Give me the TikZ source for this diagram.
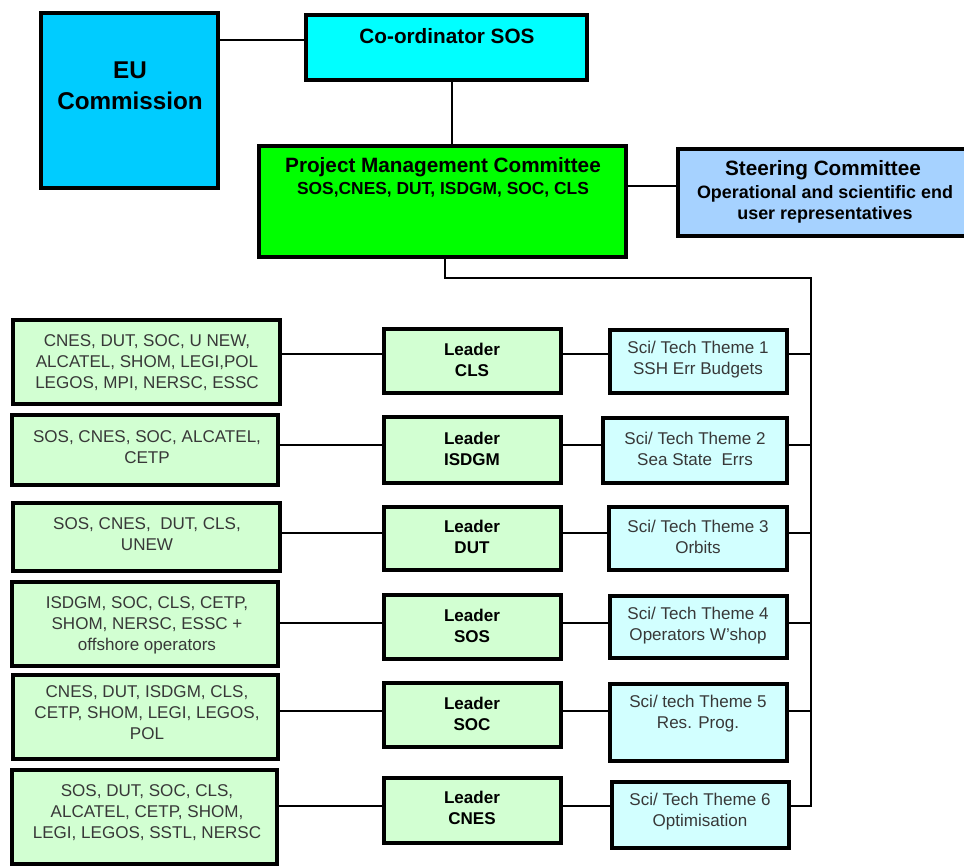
\documentclass[tikz,border=0pt]{standalone}
\usepackage{fontspec}
\setmainfont{Liberation Sans}
\usetikzlibrary{fit}
\definecolor{eublue}{HTML}{00CCFF}
\definecolor{coordcyan}{HTML}{00FFFF}
\definecolor{pmcgreen}{HTML}{00FF00}
\definecolor{steerblue}{HTML}{A6D2FF}
\definecolor{palegreen}{HTML}{D2FFD2}
\definecolor{palecyan}{HTML}{D2FFFF}
\definecolor{txtgray}{HTML}{383838}
\tikzset{
  box/.style={draw=black, line width=1.8pt, inner sep=0pt},
  greenbox/.style={box, fill=palegreen},
  themebox/.style={box, fill=palecyan},
  conn/.style={line width=1.5pt, line join=miter},
  smalltxt/.style={align=center, inner sep=0pt, text=txtgray, font=\fontsize{9.7}{11.9}\selectfont},
  leadtxt/.style={align=center, inner sep=0pt, text=black, font=\fontsize{9.7}{11.9}\selectfont\bfseries},
  titletxt/.style={align=center, inner sep=0pt, text=black, font=\fontsize{11.8}{14}\selectfont\bfseries},
  subtxt/.style={align=center, inner sep=0pt, text=black, font=\fontsize{9.9}{11.9}\selectfont\bfseries}
}
\begin{document}
\begin{tikzpicture}[x=0.02cm,y=-0.02cm]
\useasboundingbox[fill=white] (0,0) rectangle (964,867);

% top boxes
\node[box, fill=eublue, fit={(41,13) (218,188)}] (eu) {};
\node[box, fill=coordcyan, fit={(306,15) (587,80)}] (coord) {};
\node[box, fill=pmcgreen, fit={(259,146) (626,257)}] (pmc) {};
\node[box, fill=steerblue, fit={(678,149) (970,236)}] (steer) {};

\node[align=center, inner sep=0pt, font=\fontsize{13.8}{17.6}\selectfont\bfseries] (eutxt) at (130,86) {EU\\Commission};
\node[titletxt] (coordtxt) at (447,36) {Co-ordinator SOS};
\node[titletxt] (pmctxt) at (443,167) {Project Management Committee};
\node[subtxt] (pmcsub) at (443,190) {SOS,CNES, DUT, ISDGM, SOC, CLS};
\node[titletxt] (steertxt) at (823,170) {Steering Committee};
\node[subtxt, font=\fontsize{10.2}{12}\selectfont\bfseries] (steersub) at (825,204) {Operational and scientific end\\user representatives};

% left partner boxes
\node[greenbox, fit={(13,320) (280,404)}] (l1) {};
\node[greenbox, fit={(12,415) (278,485)}] (l2) {};
\node[greenbox, fit={(13,503) (280,571)}] (l3) {};
\node[greenbox, fit={(12,582) (278,666)}] (l4) {};
\node[greenbox, fit={(13,675) (278,759)}] (l5) {};
\node[greenbox, fit={(12,770) (277,864)}] (l6) {};

\node[smalltxt] (l1t) at (147,363) {CNES, DUT, SOC, U NEW,\\ALCATEL, SHOM, LEGI,POL\\LEGOS, MPI, NERSC, ESSC};
\node[smalltxt] (l2t) at (147,447) {SOS, CNES, SOC, ALCATEL,\\CETP};
\node[smalltxt] (l3t) at (147,534) {SOS, CNES,\ \ DUT, CLS,\\UNEW};
\node[smalltxt] (l4t) at (147,625) {ISDGM, SOC, CLS, CETP,\\SHOM, NERSC, ESSC +\\offshore operators};
\node[smalltxt] (l5t) at (147,713) {CNES, DUT, ISDGM, CLS,\\CETP, SHOM, LEGI, LEGOS,\\POL};
\node[smalltxt] (l6t) at (147,813) {SOS, DUT, SOC, CLS,\\ALCATEL, CETP, SHOM,\\LEGI, LEGOS, SSTL, NERSC};

% leader boxes
\node[greenbox, fit={(384,329) (561,393)}] (ld1) {};
\node[greenbox, fit={(384,417) (561,483)}] (ld2) {};
\node[greenbox, fit={(384,507) (561,570)}] (ld3) {};
\node[greenbox, fit={(384,595) (561,659)}] (ld4) {};
\node[greenbox, fit={(384,683) (561,747)}] (ld5) {};
\node[greenbox, fit={(384,778) (561,843)}] (ld6) {};

\node[leadtxt] (ld1t) at (472,360) {Leader\\CLS};
\node[leadtxt] (ld2t) at (472,449) {Leader\\ISDGM};
\node[leadtxt] (ld3t) at (472,537) {Leader\\DUT};
\node[leadtxt] (ld4t) at (472,626) {Leader\\SOS};
\node[leadtxt] (ld5t) at (472,714) {Leader\\SOC};
\node[leadtxt] (ld6t) at (472,808) {Leader\\CNES};

% theme boxes
\node[themebox, fit={(610,330) (787,393)}] (t1) {};
\node[themebox, fit={(603,418) (787,483)}] (t2) {};
\node[themebox, fit={(609,507) (787,570)}] (t3) {};
\node[themebox, fit={(610,596) (787,658)}] (t4) {};
\node[themebox, fit={(610,684) (787,761)}] (t5) {};
\node[themebox, fit={(612,782) (789,848)}] (t6) {};

\node[smalltxt] (t1t) at (698,360) {Sci/ Tech Theme 1\\SSH Err Budgets};
\node[smalltxt] (t2t) at (695,449) {Sci/ Tech Theme 2\\Sea State\ \ Errs};
\node[smalltxt] (t3t) at (698,537) {Sci/ Tech Theme 3\\Orbits};
\node[smalltxt] (t4t) at (698,626) {Sci/ Tech Theme 4\\Operators W'shop};
\node[smalltxt] (t5t) at (698,714) {Sci/ tech Theme 5\\Res. Prog.};
\node[smalltxt] (t6t) at (700,812) {Sci/ Tech Theme 6\\Optimisation};

% helper coordinates
\coordinate (ytop) at (0,40);
\coordinate (xcoord) at (452,0);
\coordinate (ysteer) at (0,186);
\coordinate (drop) at (445,278);
\coordinate (bus) at (811,0);
\coordinate (r1) at (0,354);
\coordinate (r2) at (0,445);
\coordinate (r3) at (0,533);
\coordinate (r4) at (0,623);
\coordinate (r5) at (0,711);
\coordinate (r6) at (0,806);

% top connectors
\draw[conn] (eu.east |- ytop) -- (coord.west |- ytop);
\draw[conn] (coord.south -| xcoord) -- (pmc.north -| xcoord);
\draw[conn] (pmc.east |- ysteer) -- (steer.west |- ysteer);
\draw[conn] (pmc.south -| drop) -- (drop) -| (bus |- r6) -- (t6.east |- r6);

% row connectors
\foreach \r in {1,...,6}{
  \draw[conn] (l\r.east |- r\r) -- (ld\r.west |- r\r);
  \draw[conn] (ld\r.east |- r\r) -- (t\r.west |- r\r);
}
\foreach \r in {1,...,5}{
  \draw[conn] (t\r.east |- r\r) -- (bus |- r\r);
}
\end{tikzpicture}
\end{document}
